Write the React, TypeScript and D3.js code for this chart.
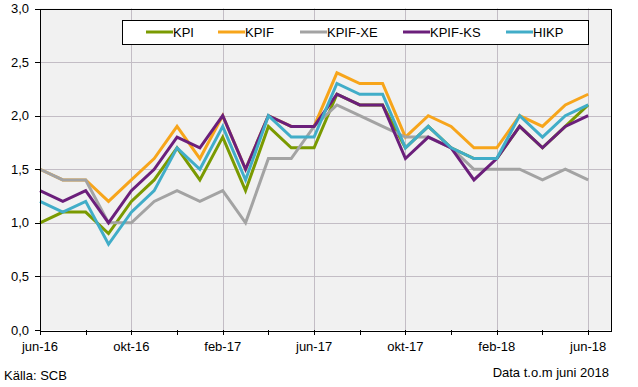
import React, { useRef, useEffect } from 'react';
import * as d3 from 'd3';

const months = [
  'jun-16', 'jul-16', 'aug-16', 'sep-16', 'okt-16', 'nov-16', 'dec-16',
  'jan-17', 'feb-17', 'mar-17', 'apr-17', 'maj-17', 'jun-17', 'jul-17',
  'aug-17', 'sep-17', 'okt-17', 'nov-17', 'dec-17', 'jan-18', 'feb-18',
  'mar-18', 'apr-18', 'maj-18', 'jun-18',
];

const kpi = [1.0, 1.1, 1.1, 0.9, 1.2, 1.4, 1.7, 1.4, 1.8, 1.3, 1.9, 1.7, 1.7, 2.2, 2.1, 2.1, 1.7, 1.9, 1.7, 1.6, 1.6, 1.9, 1.7, 1.9, 2.1];
const kpif = [1.5, 1.4, 1.4, 1.2, 1.4, 1.6, 1.9, 1.6, 2.0, 1.5, 2.0, 1.9, 1.9, 2.4, 2.3, 2.3, 1.8, 2.0, 1.9, 1.7, 1.7, 2.0, 1.9, 2.1, 2.2];
const kpifXe = [1.5, 1.4, 1.4, 1.0, 1.0, 1.2, 1.3, 1.2, 1.3, 1.0, 1.6, 1.6, 1.9, 2.1, 2.0, 1.9, 1.8, 1.8, 1.7, 1.5, 1.5, 1.5, 1.4, 1.5, 1.4];
const kpifKs = [1.3, 1.2, 1.3, 1.0, 1.3, 1.5, 1.8, 1.7, 2.0, 1.5, 2.0, 1.9, 1.9, 2.2, 2.1, 2.1, 1.6, 1.8, 1.7, 1.4, 1.6, 1.9, 1.7, 1.9, 2.0];
const hikp = [1.2, 1.1, 1.2, 0.8, 1.1, 1.3, 1.7, 1.5, 1.9, 1.4, 2.0, 1.8, 1.8, 2.3, 2.2, 2.2, 1.7, 1.9, 1.7, 1.6, 1.6, 2.0, 1.8, 2.0, 2.1];

const series = [
  { name: 'KPI', values: kpi, color: '#7a9a01' },
  { name: 'KPIF', values: kpif, color: '#f7a51b' },
  { name: 'KPIF-XE', values: kpifXe, color: '#a3a3a3' },
  { name: 'KPIF-KS', values: kpifKs, color: '#6b1f7b' },
  { name: 'HIKP', values: hikp, color: '#41adc8' },
];

const yTicks = [0, 0.5, 1, 1.5, 2, 2.5, 3];

const App = () => {
  const chartRef = useRef(null);

  useEffect(() => {
    const width = 638;
    const height = 387;
    const font = 'Liberation Sans, Arial, sans-serif';

    d3.select(chartRef.current).selectAll('*').remove();

    const svg = d3
      .select(chartRef.current)
      .append('svg')
      .attr('width', width)
      .attr('height', height)
      .style('position', 'absolute')
      .style('left', 0)
      .style('top', 0)
      .style('font-family', font);

    svg.append('rect').attr('width', width).attr('height', height).attr('fill', '#ffffff');

    const x = d3.scaleLinear().domain([0, months.length]).range([40, 611]);
    const y = d3.scaleLinear().domain([0, 3]).range([330, 8.5]);
    const fmt = (v) => d3.format('.1f')(v).replace('.', ',');

    // plot background
    svg
      .append('rect')
      .attr('x', x(0))
      .attr('y', y(3))
      .attr('width', x(months.length) - x(0))
      .attr('height', y(0) - y(3))
      .attr('fill', '#f1f1f1');

    // grid lines
    svg
      .append('g')
      .selectAll('line')
      .data(yTicks.slice(1, -1))
      .join('line')
      .attr('x1', x(0))
      .attr('x2', x(months.length))
      .attr('y1', (d) => Math.round(y(d)) + 0.5)
      .attr('y2', (d) => Math.round(y(d)) + 0.5)
      .attr('stroke', '#c3bdc5');

    const labelIdx = months.map((m, i) => i).filter((i) => i % 4 === 0);

    svg
      .append('g')
      .selectAll('line')
      .data(labelIdx.slice(1))
      .join('line')
      .attr('x1', (d) => Math.round(x(d)) + 0.5)
      .attr('x2', (d) => Math.round(x(d)) + 0.5)
      .attr('y1', y(3))
      .attr('y2', y(0))
      .attr('stroke', '#c3bdc5');

    // lines
    const line = d3
      .line()
      .x((d, i) => x(i))
      .y((d) => y(d));

    series.forEach((s) => {
      svg
        .append('path')
        .datum(s.values)
        .attr('fill', 'none')
        .attr('stroke', s.color)
        .attr('stroke-width', 3)
        .attr('stroke-linejoin', 'miter')
        .attr('d', line);
    });

    // border
    svg
      .append('rect')
      .attr('x', Math.round(x(0)) + 0.5)
      .attr('y', Math.round(y(3)) + 0.5)
      .attr('width', Math.round(x(months.length) - x(0)))
      .attr('height', Math.round(y(0) - y(3)))
      .attr('fill', 'none')
      .attr('stroke', '#000');

    // y axis
    const yAxis = svg.append('g');
    yAxis
      .selectAll('line')
      .data(yTicks)
      .join('line')
      .attr('x1', x(0) - 5)
      .attr('x2', x(0))
      .attr('y1', (d) => Math.round(y(d)) + 0.5)
      .attr('y2', (d) => Math.round(y(d)) + 0.5)
      .attr('stroke', '#000');
    yAxis
      .selectAll('text')
      .data(yTicks)
      .join('text')
      .attr('x', 29)
      .attr('y', (d) => y(d) + 4.5)
      .attr('text-anchor', 'end')
      .attr('font-size', 13)
      .attr('fill', '#000')
      .text(fmt);

    // x axis
    const xAxis = svg.append('g');
    xAxis
      .selectAll('line')
      .data(months.map((m, i) => i).filter((i) => i % 2 === 0))
      .join('line')
      .attr('x1', (d) => Math.round(x(d)) + 0.5)
      .attr('x2', (d) => Math.round(x(d)) + 0.5)
      .attr('y1', y(0))
      .attr('y2', y(0) + 5)
      .attr('stroke', '#000');
    xAxis
      .selectAll('text')
      .data(labelIdx)
      .join('text')
      .attr('x', (d) => x(d))
      .attr('y', 351)
      .attr('text-anchor', 'middle')
      .attr('font-size', 13)
      .attr('fill', '#000')
      .text((d) => months[d]);

    // legend
    const legendPos = [146, 218, 300, 403, 506];
    svg
      .append('rect')
      .attr('x', 122.5)
      .attr('y', 20.5)
      .attr('width', 466)
      .attr('height', 24)
      .attr('fill', '#fff')
      .attr('stroke', '#000');
    const items = svg
      .append('g')
      .selectAll('g')
      .data(series)
      .join('g')
      .attr('transform', (d, i) => `translate(${legendPos[i]}, 32)`);
    items
      .append('line')
      .attr('x1', 0)
      .attr('x2', 27)
      .attr('stroke', (d) => d.color)
      .attr('stroke-width', 3);
    items
      .append('text')
      .attr('x', 27)
      .attr('y', 5)
      .attr('font-size', 13)
      .attr('fill', '#000')
      .text((d) => d.name);

    // footer
    svg
      .append('text')
      .attr('x', 4)
      .attr('y', 380)
      .attr('font-size', 13)
      .text('Källa: SCB');
    svg
      .append('text')
      .attr('x', 609)
      .attr('y', 377)
      .attr('text-anchor', 'end')
      .attr('font-size', 13)
      .text('Data t.o.m juni 2018');
  }, []);

  return <div ref={chartRef}></div>;
};

export default App;
